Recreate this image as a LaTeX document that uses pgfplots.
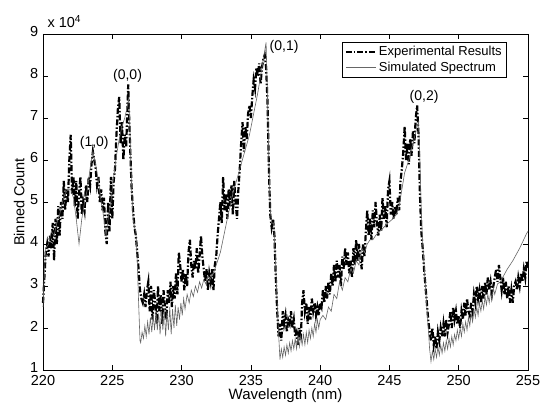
\documentclass[border=0pt]{standalone}
\usepackage{fontspec}
\setmainfont{Liberation Sans}
\usepackage{pgfplots}
\usepackage{pgfplotstable}
\pgfplotsset{compat=1.18}

\pgfplotstableread{
x y
220.0 2.6e4
220.1 3.2e4
220.2 3.8e4
220.3 4.0e4
220.4 3.7e4
220.5 4.2e4
220.6 3.9e4
220.7 4.5e4
220.8 3.6e4
220.9 4.6e4
221.0 4.0e4
221.1 4.9e4
221.2 4.2e4
221.3 5.0e4
221.4 4.6e4
221.5 5.5e4
221.6 4.8e4
221.7 5.3e4
221.8 5.0e4
221.9 6.0e4
222.0 6.6e4
222.1 5.2e4
222.2 5.6e4
222.3 4.9e4
222.4 5.5e4
222.5 4.6e4
222.6 5.2e4
222.7 5.6e4
222.8 4.7e4
222.9 5.0e4
223.0 4.8e4
223.1 5.4e4
223.2 5.0e4
223.3 5.6e4
223.4 5.4e4
223.5 5.9e4
223.6 6.2e4
223.7 6.0e4
223.8 5.8e4
223.9 5.4e4
224.0 5.6e4
224.1 5.0e4
224.2 5.3e4
224.3 4.8e4
224.4 5.1e4
224.5 4.3e4
224.6 4.0e4
224.7 5.0e4
224.8 4.3e4
224.9 5.6e4
225.0 4.6e4
225.1 5.5e4
225.2 5.8e4
225.3 6.6e4
225.4 7.2e4
225.5 7.5e4
225.6 6.4e4
225.7 6.9e4
225.8 6.0e4
225.9 6.6e4
226.0 6.3e4
226.1 7.3e4
226.15 7.8e4
226.2 7.2e4
226.3 6.2e4
226.4 5.3e4
226.5 4.8e4
226.6 4.4e4
226.7 4.2e4
226.8 3.8e4
226.9 3.4e4
227.0 2.9e4
227.1 2.7e4
227.2 2.6e4
227.3 2.8e4
227.4 2.5e4
227.5 2.9e4
227.6 3.1e4
227.7 2.4e4
227.8 3.0e4
227.9 2.2e4
228.0 2.9e4
228.1 2.6e4
228.2 2.1e4
228.3 3.0e4
228.4 2.4e4
228.5 2.8e4
228.6 2.1e4
228.7 2.9e4
228.8 2.5e4
228.9 2.2e4
229.0 2.9e4
229.1 2.6e4
229.2 3.1e4
229.3 2.5e4
229.4 3.0e4
229.5 2.7e4
229.6 3.3e4
229.7 2.8e4
229.8 3.8e4
229.9 3.5e4
230.0 3.1e4
230.1 3.4e4
230.2 2.9e4
230.3 3.3e4
230.4 3.0e4
230.5 3.8e4
230.6 4.1e4
230.7 3.5e4
230.8 3.2e4
230.9 3.6e4
231.0 3.4e4
231.1 3.9e4
231.2 3.3e4
231.3 3.7e4
231.4 4.2e4
231.5 3.7e4
231.6 3.4e4
231.7 3.1e4
231.8 3.4e4
231.9 2.9e4
232.0 3.3e4
232.1 3.1e4
232.2 3.4e4
232.3 2.9e4
232.4 3.5e4
232.5 3.7e4
232.6 4.2e4
232.7 4.6e4
232.8 5.0e4
232.9 4.5e4
233.0 5.6e4
233.1 4.8e4
233.2 5.2e4
233.3 4.6e4
233.4 5.3e4
233.5 4.9e4
233.6 5.4e4
233.7 4.7e4
233.8 5.5e4
233.9 5.0e4
234.0 4.6e4
234.1 5.3e4
234.2 5.8e4
234.3 6.4e4
234.4 6.9e4
234.5 6.2e4
234.6 6.8e4
234.7 6.5e4
234.8 7.1e4
234.9 7.3e4
235.0 7.0e4
235.1 7.5e4
235.2 7.9e4
235.3 7.7e4
235.4 8.2e4
235.5 8.0e4
235.6 8.3e4
235.7 7.8e4
235.8 8.2e4
235.9 8.4e4
236.0 8.5e4
236.1 8.2e4
236.2 7.4e4
236.3 5.8e4
236.4 4.7e4
236.5 4.4e4
236.6 4.6e4
236.7 4.2e4
236.8 3.2e4
236.9 2.4e4
237.0 1.8e4
237.1 2.1e4
237.2 1.7e4
237.3 2.4e4
237.4 2.1e4
237.5 2.3e4
237.6 1.9e4
237.7 2.2e4
237.8 2.1e4
237.9 2.4e4
238.0 2.0e4
238.1 2.2e4
238.2 1.8e4
238.3 1.9e4
238.4 1.6e4
238.5 2.0e4
238.6 1.7e4
238.7 2.6e4
238.8 2.9e4
238.9 2.4e4
239.0 2.6e4
239.1 2.1e4
239.2 2.5e4
239.3 2.2e4
239.4 2.7e4
239.5 2.4e4
239.6 2.6e4
239.7 2.3e4
239.8 2.5e4
239.9 2.3e4
240.0 2.6e4
240.1 2.5e4
240.2 2.9e4
240.3 2.6e4
240.4 3.0e4
240.5 2.7e4
240.6 3.1e4
240.7 2.8e4
240.8 3.3e4
240.9 3.0e4
241.0 3.5e4
241.1 3.1e4
241.2 3.6e4
241.3 3.2e4
241.4 3.5e4
241.5 3.0e4
241.6 3.7e4
241.7 3.4e4
241.8 3.9e4
241.9 3.5e4
242.0 3.8e4
242.1 3.3e4
242.2 3.6e4
242.3 3.2e4
242.4 3.9e4
242.5 3.5e4
242.6 4.1e4
242.7 3.6e4
242.8 4.0e4
242.9 3.7e4
243.0 3.4e4
243.1 4.0e4
243.2 3.7e4
243.3 4.3e4
243.4 4.8e4
243.5 4.2e4
243.6 4.6e4
243.7 4.1e4
243.8 4.8e4
243.9 4.4e4
244.0 5.0e4
244.1 4.5e4
244.2 4.2e4
244.3 4.7e4
244.4 4.3e4
244.5 5.1e4
244.6 4.6e4
244.7 4.9e4
244.8 4.4e4
244.9 5.3e4
245.0 5.5e4
245.1 4.7e4
245.2 5.0e4
245.3 4.6e4
245.4 4.9e4
245.5 4.7e4
245.6 5.1e4
245.7 4.8e4
245.8 5.5e4
245.9 5.8e4
246.0 6.2e4
246.1 6.8e4
246.2 6.0e4
246.3 6.4e4
246.4 5.9e4
246.5 6.5e4
246.6 6.1e4
246.7 6.7e4
246.8 6.4e4
246.9 7.0e4
247.0 7.3e4
247.1 6.6e4
247.2 5.2e4
247.3 4.3e4
247.4 3.9e4
247.5 3.4e4
247.6 3.0e4
247.7 2.6e4
247.8 2.2e4
247.9 1.9e4
248.0 1.7e4
248.1 2.0e4
248.2 1.6e4
248.3 1.8e4
248.4 1.5e4
248.5 1.9e4
248.6 1.7e4
248.7 2.0e4
248.8 1.8e4
248.9 2.1e4
249.0 1.8e4
249.1 2.2e4
249.2 1.9e4
249.3 2.1e4
249.4 2.4e4
249.5 2.0e4
249.6 2.5e4
249.7 2.2e4
249.8 2.4e4
249.9 2.1e4
250.0 2.3e4
250.1 2.0e4
250.2 2.4e4
250.3 2.2e4
250.4 2.6e4
250.5 2.3e4
250.6 2.7e4
250.7 2.4e4
250.8 2.3e4
250.9 2.6e4
251.0 2.4e4
251.1 2.8e4
251.2 2.6e4
251.3 3.0e4
251.4 2.7e4
251.5 2.9e4
251.6 2.6e4
251.7 3.0e4
251.8 2.7e4
251.9 3.1e4
252.0 2.8e4
252.1 3.2e4
252.2 2.9e4
252.3 3.1e4
252.4 2.8e4
252.5 3.0e4
252.6 3.2e4
252.7 3.4e4
252.8 3.1e4
252.9 3.5e4
253.0 3.2e4
253.1 2.9e4
253.2 3.2e4
253.3 2.8e4
253.4 3.1e4
253.5 2.7e4
253.6 3.0e4
253.7 2.6e4
253.8 2.9e4
253.9 2.6e4
254.0 3.0e4
254.1 3.1e4
254.2 2.9e4
254.3 3.2e4
254.4 3.0e4
254.5 3.3e4
254.6 3.1e4
254.7 3.4e4
254.8 3.2e4
254.9 3.6e4
255.0 3.4e4
}\experimental

\pgfplotstableread{
x y
220.0 2.5e4
220.1 3.3e4
220.2 3.9e4
220.4 4.0e4
220.6 4.3e4
220.8 4.2e4
221.0 4.5e4
221.2 4.7e4
221.4 5.0e4
221.6 5.2e4
221.8 5.3e4
222.0 5.3e4
222.2 5.1e4
222.4 4.6e4
222.6 4.0e4
222.8 4.6e4
223.0 5.0e4
223.2 5.3e4
223.4 5.8e4
223.6 6.2e4
223.8 5.9e4
224.0 5.5e4
224.2 5.0e4
224.4 4.6e4
224.55 4.2e4
224.7 4.6e4
224.9 5.0e4
225.1 5.6e4
225.3 6.1e4
225.5 6.5e4
225.7 6.8e4
225.9 7.0e4
226.1 7.3e4
226.2 7.5e4
226.3 6.4e4
226.4 5.3e4
226.5 4.6e4
226.6 4.4e4
226.7 4.3e4
226.8 3.6e4
226.9 2.6e4
227.0 1.7e4
227.05 1.65e4
227.15 1.9e4
227.25 1.75e4
227.35 2.05e4
227.45 1.8e4
227.55 2.15e4
227.65 1.85e4
227.75 2.25e4
227.85 1.9e4
227.95 2.3e4
228.05 1.95e4
228.15 2.4e4
228.25 1.95e4
228.35 2.35e4
228.45 1.85e4
228.55 2.4e4
228.65 1.95e4
228.75 2.45e4
228.85 1.8e4
228.95 2.4e4
229.05 1.95e4
229.15 2.5e4
229.25 1.85e4
229.35 2.45e4
229.45 2.0e4
229.55 2.55e4
229.65 2.05e4
229.75 2.5e4
229.85 2.2e4
229.95 2.6e4
230.05 2.3e4
230.15 2.7e4
230.25 2.45e4
230.4 2.8e4
230.55 2.6e4
230.7 2.9e4
230.85 2.75e4
231.0 3.0e4
231.15 2.85e4
231.3 3.1e4
231.45 2.95e4
231.6 3.15e4
231.75 3.05e4
231.9 3.25e4
232.05 3.15e4
232.3 3.3e4
232.8 3.8e4
233.3 4.6e4
233.7 5.2e4
234.3 5.9e4
234.9 6.6e4
235.5 7.6e4
236.1 8.8e4
236.2 7.5e4
236.3 6.0e4
236.4 4.8e4
236.5 4.5e4
236.65 4.5e4
236.8 3.4e4
236.95 2.2e4
237.1 1.25e4
237.2 1.5e4
237.3 1.3e4
237.4 1.55e4
237.5 1.35e4
237.6 1.6e4
237.7 1.4e4
237.8 1.65e4
237.9 1.45e4
238.0 1.7e4
238.1 1.5e4
238.2 1.75e4
238.3 1.5e4
238.4 1.8e4
238.5 1.55e4
238.6 1.8e4
238.7 1.6e4
238.8 1.85e4
238.9 1.6e4
239.0 1.9e4
239.1 1.65e4
239.2 1.95e4
239.3 1.75e4
239.4 2.0e4
239.5 1.8e4
239.6 2.1e4
239.7 1.9e4
239.8 2.2e4
239.9 2.0e4
240.0 2.2e4
240.2 2.3e4
240.4 2.2e4
240.6 2.5e4
240.8 2.4e4
241.0 2.8e4
241.2 2.7e4
241.4 3.1e4
241.6 2.9e4
241.8 3.2e4
242.0 3.1e4
242.2 3.4e4
242.4 3.3e4
242.6 3.6e4
242.8 3.5e4
243.0 3.9e4
243.2 3.8e4
243.4 4.0e4
243.6 4.1e4
243.8 4.1e4
244.0 4.2e4
244.3 4.3e4
244.6 4.4e4
244.9 4.5e4
245.25 4.6e4
245.5 4.7e4
245.7 4.9e4
245.9 5.3e4
246.1 5.7e4
246.4 6.0e4
246.7 6.4e4
247.0 6.8e4
247.1 6.9e4
247.2 6.0e4
247.3 4.8e4
247.4 4.0e4
247.5 3.5e4
247.6 3.0e4
247.7 2.5e4
247.8 2.0e4
247.9 1.5e4
248.0 1.2e4
248.1 1.45e4
248.2 1.25e4
248.3 1.5e4
248.4 1.3e4
248.5 1.55e4
248.6 1.35e4
248.7 1.6e4
248.8 1.4e4
248.9 1.65e4
249.0 1.45e4
249.1 1.7e4
249.2 1.5e4
249.3 1.75e4
249.4 1.55e4
249.5 1.8e4
249.6 1.6e4
249.7 1.85e4
249.8 1.7e4
249.9 1.95e4
250.0 1.75e4
250.1 2.0e4
250.2 1.8e4
250.3 2.1e4
250.4 1.9e4
250.5 2.15e4
250.6 1.95e4
250.7 2.25e4
250.8 2.05e4
250.9 2.35e4
251.0 2.15e4
251.1 2.45e4
251.2 2.25e4
251.3 2.5e4
251.4 2.3e4
251.5 2.6e4
251.6 2.4e4
251.7 2.65e4
251.8 2.45e4
251.9 2.75e4
252.0 2.55e4
252.1 2.8e4
252.2 2.6e4
252.3 2.85e4
252.4 2.7e4
252.5 2.95e4
252.6 2.8e4
252.8 3.05e4
253.0 3.1e4
253.5 3.4e4
253.9 3.6e4
254.4 3.9e4
254.9 4.25e4
255.0 4.3e4
}\simulated

\begin{document}
\begin{tikzpicture}
\path[use as bounding box] (-43pt,-37pt) rectangle (499pt,370pt);
\begin{axis}[
  at={(0pt,0pt)}, anchor=south west,
  scale only axis,
  width=485pt, height=336pt,
  xmin=220, xmax=255,
  ymin=10000, ymax=90000,
  xtick={220,225,...,255},
  ytick={10000,20000,...,90000},
  yticklabels={1,2,3,4,5,6,7,8,9},
  scaled y ticks=false,
  /pgf/number format/assume math mode=true,
  /pgf/number format/1000 sep={},
  tick align=inside,
  major tick length=5pt,
  tick style={black, line width=0.5pt},
  axis line style={line width=0.6pt},
  font=\fontsize{14.5}{16}\selectfont,
  tick label style={font=\fontsize{14.5}{16}\selectfont},
  xticklabel style={inner sep=1pt, yshift=-4pt},
  yticklabel style={inner sep=0.5pt, xshift=-4pt, yshift=2pt},
  xlabel={Wavelength (nm)},
  ylabel={Binned Count},
  xlabel style={font=\fontsize{15}{17}\selectfont, inner sep=1pt, yshift=-1pt},
  ylabel style={font=\fontsize{14.5}{16}\selectfont, inner sep=1pt, yshift=4pt},
  clip=false,
  legend cell align=left,
  legend style={
    at={(axis description cs:1,1)}, anchor=north east,
    xshift=-22pt, yshift=-8pt,
    draw=black, line width=0.5pt,
    font=\fontsize{13}{14}\selectfont,
    inner sep=2pt, row sep=1pt,
  },
  legend image code/.code={\draw[#1] (0pt,0pt) -- (30pt,0pt);},
]
\addplot[black, line width=2.2pt, dash pattern=on 6pt off 2pt on 1.5pt off 2pt] table[x=x,y=y] {\experimental};
\addlegendentry{Experimental Results}
\addplot[black!60, line width=0.6pt] table[x=x,y=y] {\simulated};
\addlegendentry{Simulated Spectrum}

\node[anchor=base west, font=\fontsize{14.5}{16}\selectfont] at ([xshift=1pt,yshift=6pt]rel axis cs:0,1) {x 10\textsuperscript{4}};
\node[font=\fontsize{14}{16}\selectfont] at (axis cs:223.7,64000) {(1,0)};
\node[font=\fontsize{14}{16}\selectfont] at (axis cs:226.1,80000) {(0,0)};
\node[font=\fontsize{14}{16}\selectfont] at (axis cs:237.4,87000) {(0,1)};
\node[font=\fontsize{14}{16}\selectfont] at (axis cs:247.5,75000) {(0,2)};
\end{axis}
\end{tikzpicture}
\end{document}
